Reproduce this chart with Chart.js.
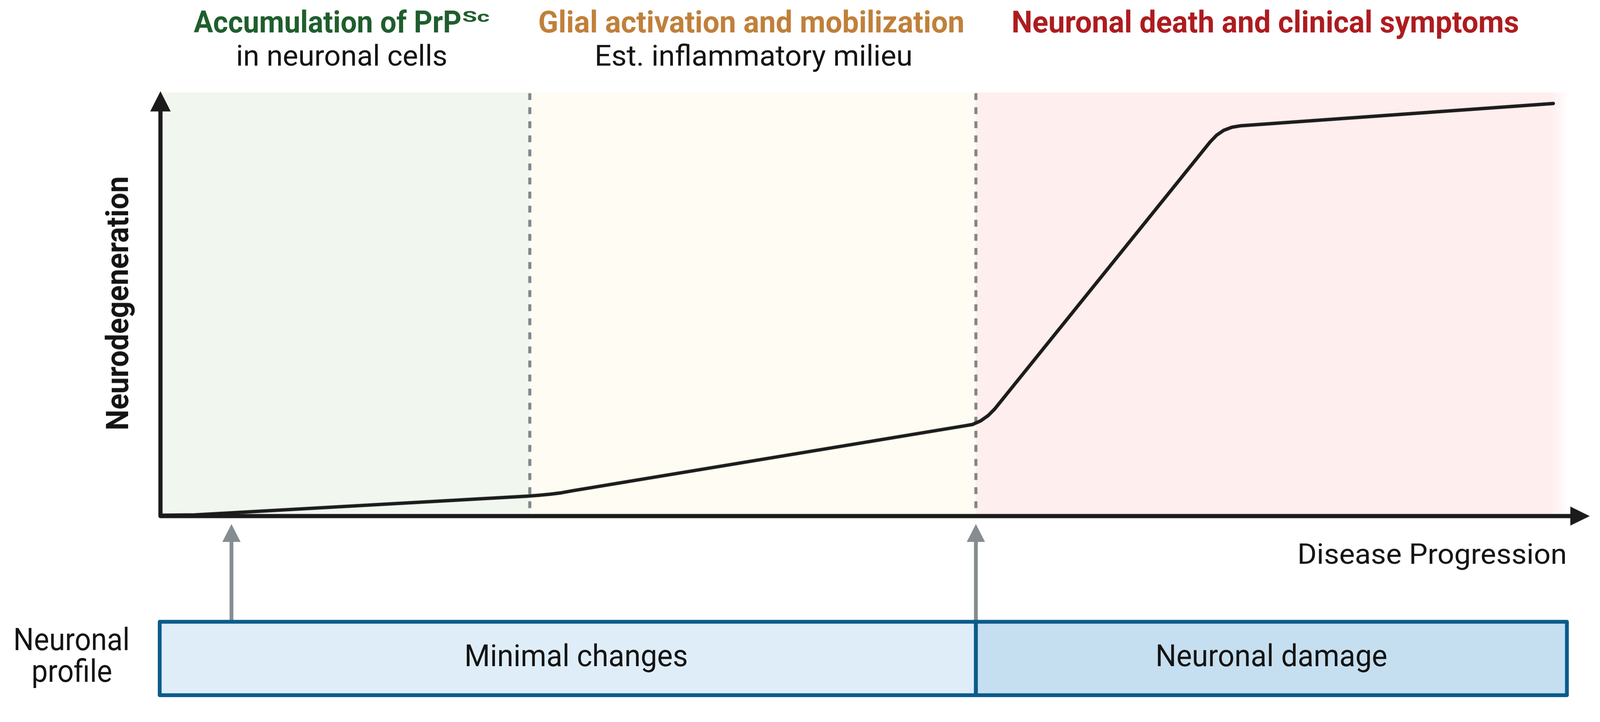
<!DOCTYPE html>
<html>
<head>
<meta charset="utf-8">
<script src="https://cdn.jsdelivr.net/npm/chart.js@4.4.1/dist/chart.umd.min.js"></script>
<style>
  html, body { margin: 0; padding: 0; background: #ffffff; overflow: hidden; }
  #wrap { position: relative; }
</style>
</head>
<body>
<div id="wrap"><canvas id="c"></canvas></div>
<script>
// ---- data ----
const progress = [0, 2.5, 26.13, 26.94, 27.74, 28.54, 29.34, 57.14, 57.77, 58.35, 58.87, 59.32, 74.65, 75.10, 75.61, 76.20, 76.84, 99.03];
const neurodegeneration = [0.1, 0.2, 4.63, 4.83, 5.08, 5.41, 5.90, 21.20, 21.56, 22.43, 23.66, 25.15, 88.33, 89.88, 91.03, 91.78, 92.13, 97.39];

const phaseBounds = [0, 26.3, 58.0, 100];
const phaseTitles = ['Accumulation of PrP', 'Glial activation and mobilization', 'Neuronal death and clinical symptoms'];
const phaseTitleSup = ['Sc', '', ''];
const phaseSubtitles = ['in neuronal cells', 'Est. inflammatory milieu', ''];
const phaseColors = ['#1f5e2d', '#c0803a', '#ad1c1f'];
const phaseFills = ['#f1f6ef', '#fefcf3', '#feeeed'];

const profileBounds = [0, 58.0, 100];
const profileLabels = ['Minimal changes', 'Neuronal damage'];
const profileFills = ['#dfedf8', '#c5dff0'];
const markerArrows = [5.1, 58.0];

const xAxisTitle = 'Disease Progression';
const yAxisTitle = 'Neurodegeneration';
const rowTitle = ['Neuronal', 'profile'];

const points = progress.map((x, i) => ({ x: x, y: neurodegeneration[i] }));

// design space is 4208 x 1849; scale to the real viewport
const W0 = 4208, H0 = 1849;
const S = Math.min(window.innerWidth / W0, window.innerHeight / H0) || 1;
const wrap = document.getElementById('wrap');
wrap.style.width = (W0 * S) + 'px';
wrap.style.height = (H0 * S) + 'px';

function txt(ctx, s, x, y, size, weight, color, align, w) {
  ctx.save();
  ctx.font = weight + ' ' + size + 'px Roboto, "Noto Sans", sans-serif';
  const m = ctx.measureText(s).width;
  const sx = w ? w / m : 1;
  ctx.translate(x, y);
  ctx.scale(sx, 1);
  ctx.textAlign = align;
  ctx.textBaseline = 'alphabetic';
  ctx.fillStyle = color;
  ctx.fillText(s, 0, 0);
  ctx.restore();
}

function arrowUp(ctx, x, yTop, yBottom, headLen, halfW, lw, color) {
  ctx.save();
  ctx.strokeStyle = color; ctx.fillStyle = color; ctx.lineWidth = lw;
  ctx.beginPath(); ctx.moveTo(x, yBottom); ctx.lineTo(x, yTop + headLen - 2); ctx.stroke();
  ctx.beginPath(); ctx.moveTo(x, yTop); ctx.lineTo(x - halfW, yTop + headLen); ctx.lineTo(x + halfW, yTop + headLen); ctx.closePath(); ctx.fill();
  ctx.restore();
}

// helpers returning design-space pixels from scale values
function px(chart, v) { return chart.scales.x.getPixelForValue(v) / S; }
function py(chart, v) { return chart.scales.y.getPixelForValue(v) / S; }

const decor = {
  id: 'decor',
  beforeDatasetsDraw(chart) {
    const ctx = chart.ctx;
    ctx.save(); ctx.scale(S, S);
    const top = py(chart, 100), bot = py(chart, 0);
    for (let i = 0; i < 3; i++) {
      const x0 = px(chart, phaseBounds[i]), x1 = px(chart, phaseBounds[i + 1]);
      if (i === 2) {
        const g = ctx.createLinearGradient(x1 - 45, 0, x1 + 5, 0);
        g.addColorStop(0, phaseFills[i]); g.addColorStop(1, 'rgba(254,238,237,0)');
        ctx.fillStyle = phaseFills[i];
        ctx.fillRect(x0, top, (x1 - 45) - x0, bot - top);
        ctx.fillStyle = g;
        ctx.fillRect(x1 - 45, top, 50, bot - top);
      } else {
        ctx.fillStyle = phaseFills[i];
        ctx.fillRect(x0, top, x1 - x0, bot - top);
      }
    }
    ctx.strokeStyle = '#7f878b'; ctx.lineWidth = 8; ctx.setLineDash([18, 19]);
    for (let i = 1; i < 3; i++) {
      const x = px(chart, phaseBounds[i]);
      ctx.beginPath(); ctx.moveTo(x, top + 2); ctx.lineTo(x, bot - 4); ctx.stroke();
    }
    ctx.restore();
  },
  afterDatasetsDraw(chart) {
    const ctx = chart.ctx;
    ctx.save(); ctx.scale(S, S);
    const top = py(chart, 100), bot = py(chart, 0);
    const left = px(chart, 0), right = px(chart, 100);
    // axes
    ctx.save();
    ctx.strokeStyle = '#1b1b1b'; ctx.fillStyle = '#1b1b1b'; ctx.lineWidth = 11;
    ctx.lineJoin = 'round'; ctx.lineCap = 'butt';
    ctx.beginPath(); ctx.moveTo(left + 2, top + 45); ctx.lineTo(left + 2, bot + 1); ctx.lineTo(right + 14, bot + 1); ctx.stroke();
    ctx.beginPath(); ctx.moveTo(left + 2, top - 3); ctx.lineTo(left + 2 - 27, top + 50); ctx.lineTo(left + 2 + 27, top + 50); ctx.closePath(); ctx.fill();
    ctx.beginPath(); ctx.moveTo(right + 60, bot + 1); ctx.lineTo(right + 9, bot + 1 - 25); ctx.lineTo(right + 9, bot + 1 + 25); ctx.closePath(); ctx.fill();
    ctx.restore();

    // phase titles
    const titleWidths = [704, 1121, 1335];
    const subWidths = [556, 836, 0];
    for (let i = 0; i < 3; i++) {
      const cx = px(chart, (phaseBounds[i] + phaseBounds[i + 1]) / 2) - (i === 0 ? 8 : (i === 2 ? 16 : 4));
      if (phaseTitleSup[i]) {
        const supW = 72, total = titleWidths[i] + 2 + supW;
        const x0 = cx - total / 2;
        txt(ctx, phaseTitles[i], x0, 85, 80, 'bold', phaseColors[i], 'left', titleWidths[i]);
        txt(ctx, phaseTitleSup[i], x0 + titleWidths[i] + 2, 58, 40, 'bold', phaseColors[i], 'left', supW);
      } else {
        txt(ctx, phaseTitles[i], cx, 85, 80, 'bold', phaseColors[i], 'center', titleWidths[i]);
      }
      if (phaseSubtitles[i]) {
        txt(ctx, phaseSubtitles[i], cx + (i === 0 ? 0 : 6), 173, 77, 'normal', '#141414', 'center', subWidths[i]);
      }
    }

    // y axis title (rotated)
    ctx.save();
    ctx.translate(337, (top + bot) / 2 - 2);
    ctx.rotate(-Math.PI / 2);
    txt(ctx, yAxisTitle, 0, 0, 81, 'bold', '#141414', 'center', 668);
    ctx.restore();

    // x axis title
    txt(ctx, xAxisTitle, right, 1482, 75, 'normal', '#141414', 'right', 709);

    // marker arrows
    for (const v of markerArrows) {
      arrowUp(ctx, px(chart, v), 1378, 1632, 47, 24, 10, '#858d91');
    }

    // neuronal profile boxes
    const bTop = 1635, bBot = 1828;
    for (let i = 0; i < 2; i++) {
      const x0 = px(chart, profileBounds[i]), x1 = px(chart, profileBounds[i + 1]);
      ctx.fillStyle = profileFills[i];
      ctx.fillRect(x0, bTop, x1 - x0, bBot - bTop);
    }
    ctx.strokeStyle = '#0b5b8b'; ctx.lineWidth = 10; ctx.lineJoin = 'round';
    for (let i = 0; i < 2; i++) {
      const x0 = px(chart, profileBounds[i]), x1 = px(chart, profileBounds[i + 1]);
      ctx.strokeRect(x0, bTop, x1 - x0, bBot - bTop);
    }
    const labW = [588, 610];
    for (let i = 0; i < 2; i++) {
      const cx = px(chart, (profileBounds[i] + profileBounds[i + 1]) / 2) + (i === 0 ? 22 : 0);
      txt(ctx, profileLabels[i], cx, 1752, 80, 'normal', '#141414', 'center', labW[i]);
    }
    txt(ctx, rowTitle[0], 188, 1710, 82, 'normal', '#141414', 'center', 306);
    txt(ctx, rowTitle[1], 189, 1793, 82, 'normal', '#141414', 'center', 212);
    ctx.restore();
  }
};

new Chart(document.getElementById('c'), {
  type: 'line',
  data: {
    datasets: [{
      data: points,
      borderColor: '#1c1c1c',
      borderWidth: 9 * S,
      borderJoinStyle: 'round',
      borderCapStyle: 'round',
      tension: 0,
      pointRadius: 0,
      fill: false
    }]
  },
  options: {
    responsive: true,
    maintainAspectRatio: false,
    animation: false,
    layout: { padding: { left: 420 * S, right: 87 * S, top: 243 * S, bottom: 493 * S } },
    plugins: { legend: { display: false }, title: { display: false }, tooltip: { enabled: false } },
    scales: {
      x: { type: 'linear', min: 0, max: 100, display: false },
      y: { type: 'linear', min: 0, max: 100, display: false }
    }
  },
  plugins: [decor]
});
</script>
</body>
</html>
